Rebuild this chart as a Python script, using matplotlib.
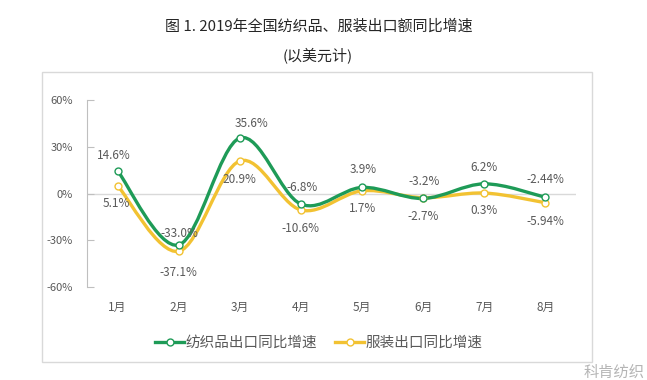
import matplotlib
matplotlib.use("Agg")
import matplotlib.pyplot as plt
from matplotlib.path import Path
from matplotlib.patches import PathPatch, Rectangle
from matplotlib.lines import Line2D
import numpy as np

plt.rcParams['font.family'] = ['Noto Sans CJK SC', 'DejaVu Sans']

months = ['1月', '2月', '3月', '4月', '5月', '6月', '7月', '8月']
textile = [14.6, -33.0, 35.6, -6.8, 3.9, -3.2, 6.2, -2.44]
apparel = [5.1, -37.1, 20.9, -10.6, 1.7, -2.7, 0.3, -5.94]
textile_labels = ['14.6%', '-33.0%', '35.6%', '-6.8%', '3.9%', '-3.2%', '6.2%', '-2.44%']
apparel_labels = ['5.1%', '-37.1%', '20.9%', '-10.6%', '1.7%', '-2.7%', '0.3%', '-5.94%']
yticks = [-60, -30, 0, 30, 60]
ytick_labels = ['-60%', '-30%', '0%', '30%', '60%']
series_names = ['纺织品出口同比增速', '服装出口同比增速']

GREEN = '#1e9b57'
YELLOW = '#f2c232'
TXT = '#595959'

fig = plt.figure(figsize=(6.47, 3.8), dpi=100)
fig.patch.set_facecolor('white')
ax = fig.add_axes([87/647, 1-287/380, 489/647, (287-100)/380])

x = np.arange(1, len(months)+1)


def smooth_path(xs, ys, t=0.5):
    xs = np.asarray(xs, float); ys = np.asarray(ys, float)
    n = len(xs)
    verts = [(xs[0], ys[0])]
    codes = [Path.MOVETO]
    for i in range(n-1):
        p0 = np.array([xs[max(i-1, 0)], ys[max(i-1, 0)]])
        p1 = np.array([xs[i], ys[i]])
        p2 = np.array([xs[i+1], ys[i+1]])
        p3 = np.array([xs[min(i+2, n-1)], ys[min(i+2, n-1)]])
        c1 = p1 + (p2 - p0) * t / 3
        c2 = p2 - (p3 - p1) * t / 3
        verts += [tuple(c1), tuple(c2), tuple(p2)]
        codes += [Path.CURVE4]*3
    return Path(verts, codes)


ax.axhline(0, color='#d9d9d9', lw=1, zorder=1)
for ys, col in [(apparel, YELLOW), (textile, GREEN)]:
    ax.add_patch(PathPatch(smooth_path(x, ys, 0.5), facecolor='none', edgecolor=col,
                           lw=2.4, capstyle='round', zorder=3))
    ax.plot(x, ys, linestyle='none', marker='o', ms=5, mfc='white', mec=col,
            mew=1.0, zorder=4)

g_off = [(-4, 15), (1, 11), (12, 15), (1, 17), (1, 18), (1, 17), (0, 16), (0, 18)]
a_off = [(-1, -18), (0, -21), (0, -19), (0, -18), (0, -18), (0, -19), (0, -17), (0, -19)]
for i in range(len(months)):
    ax.annotate(textile_labels[i], (x[i], textile[i]), xytext=(g_off[i][0]*0.72, g_off[i][1]*0.72),
                textcoords='offset points', ha='center', va='center', fontsize=8.5, color=TXT, zorder=5)
    ax.annotate(apparel_labels[i], (x[i], apparel[i]), xytext=(a_off[i][0]*0.72, a_off[i][1]*0.72),
                textcoords='offset points', ha='center', va='center', fontsize=8.5, color=TXT, zorder=5)

ax.set_xlim(0.5, 8.5)
ax.set_ylim(-60, 60)
ax.set_yticks(yticks)
ax.set_yticklabels(ytick_labels)
ax.set_xticks(x)
ax.set_xticklabels(months)
for s in ['top', 'right', 'bottom']:
    ax.spines[s].set_visible(False)
ax.spines['left'].set_color('#bfbfbf')
ax.tick_params(axis='y', direction='in', length=5, color='#bfbfbf', labelsize=8, labelcolor=TXT, pad=10)
ax.tick_params(axis='x', length=0, labelsize=8.5, labelcolor=TXT, pad=10)
ax.patch.set_alpha(0)

fig.patches.append(Rectangle((42/647, 1-362/380), 550/647, 290/380, transform=fig.transFigure,
                             fill=False, edgecolor='#d9d9d9', lw=1))

fig.text(319/647, 1-27/380, '图 1. 2019年全国纺织品、服装出口额同比增速', ha='center', va='center',
         fontsize=10.8, color='#262626', fontweight='medium')
fig.text(318/647, 1-55/380, '(以美元计)', ha='center', va='center', fontsize=10.8,
         color='#262626', fontweight='medium')

handles = [Line2D([], [], color=GREEN, lw=2.4, marker='o', ms=5, mfc='white', mec=GREEN, mew=1.0),
           Line2D([], [], color=YELLOW, lw=2.4, marker='o', ms=5, mfc='white', mec=YELLOW, mew=1.0)]
fig.legend(handles, series_names, loc='center', bbox_to_anchor=(319/647, 1-343/380), ncol=2,
           frameon=False, fontsize=10.5, handlelength=2.0, handletextpad=0.1, columnspacing=1.2,
           labelcolor=TXT)

fig.text(614/647, 1-372/380, '科肯纺织', ha='center', va='center', fontsize=11,
         color='#b5b5b5')

fig.savefig('out.png', dpi=100)
